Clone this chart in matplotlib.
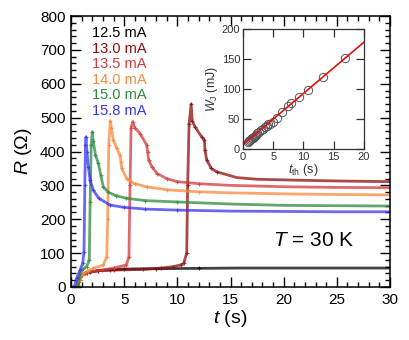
import matplotlib
matplotlib.use("Agg")
from matplotlib import pyplot as plt
from matplotlib.ticker import MultipleLocator

plt.rcParams['font.family'] = ['Liberation Sans', 'DejaVu Sans']
plt.rcParams['mathtext.fontset'] = 'custom'
plt.rcParams['mathtext.rm'] = 'Liberation Sans'
plt.rcParams['mathtext.it'] = 'Liberation Sans:italic'

# R(t) curves, one per current
t_125 = [0.5, 0.7, 0.85, 1.0, 1.3, 1.8, 2.5, 3.7, 5, 8, 12, 16, 20, 25, 30]
R_125 = [0, 15, 30, 36, 40, 44, 48, 51, 53, 54, 55, 56, 56, 56, 56]

t_130 = [0.6, 0.8, 1.0, 1.5, 2.5, 4, 6.8, 8.5, 9.6, 10.3, 10.6, 10.88, 10.97, 11.1,
         11.3, 11.4, 11.66, 12.29, 12.54, 12.6, 12.76, 13.2, 13.7, 15.6, 17.5, 20.3, 25, 30]
R_130 = [0, 20, 35, 42, 48, 50, 52, 56, 60, 65, 70, 100, 300, 480,
         540, 490, 473, 443, 434, 404, 375, 350, 340, 323, 318, 316, 313, 311]

t_135 = [0.6, 0.8, 1.0, 1.5, 2.9, 4.0, 5.2, 5.45, 5.55, 5.65, 5.8, 6.0, 6.5, 7.1,
         7.2, 7.3, 7.6, 8.1, 9.0, 10, 12, 15, 20, 25, 30]
R_135 = [0, 20, 35, 42, 50, 56, 65, 90, 300, 470, 488, 470, 453, 420,
         400, 375, 355, 335, 320, 311, 305, 300, 296, 294, 293]

t_140 = [0.6, 0.8, 1.0, 1.2, 1.6, 2.1, 3.04, 3.36, 3.45, 3.55, 3.7, 3.8, 3.98, 4.3,
         4.6, 4.7, 4.77, 5.24, 6, 7.1, 9, 12, 15, 20, 25, 30]
R_140 = [0, 20, 35, 40, 48, 55, 65, 90, 200, 420, 490, 470, 434, 410,
         389, 370, 350, 320, 305, 296, 287, 281, 278, 275, 273, 272]

t_150 = [0.6, 0.7, 0.85, 1.1, 1.47, 1.72, 1.8, 1.9, 2.0, 2.1, 2.3, 2.57, 2.8, 3.04,
         3.5, 4.2, 5.2, 7, 10, 15, 20, 25, 30]
R_150 = [0, 6, 40, 52, 60, 80, 250, 420, 458, 430, 390, 365, 330, 296,
         280, 270, 262, 255, 251, 245, 241, 240, 239]

t_158 = [0.05, 0.3, 0.53, 0.85, 1.1, 1.22, 1.3, 1.36, 1.41, 1.5, 1.63, 1.8, 2.1, 2.6,
         3.67, 5, 7, 10, 15, 20, 25, 30]
R_158 = [0, 0, 26, 50, 70, 104, 300, 420, 443, 400, 355, 315, 286, 262,
         242, 235, 230, 227, 224, 223, 222, 222]

labels = ["12.5 mA", "13.0 mA", "13.5 mA", "14.0 mA", "15.0 mA", "15.8 mA"]
colors = ["black", "#8e0c0c", "#d43a3a", "#f88a3c", "#2f8a3e", "#3535f0"]
series = [(t_125, R_125), (t_130, R_130), (t_135, R_135),
          (t_140, R_140), (t_150, R_150), (t_158, R_158)]

# inset: Joule energy vs time to threshold
t_th = [0.8, 1.0, 1.2, 1.3, 1.5, 1.6, 1.8, 2.0, 2.1, 2.3, 2.6, 2.9, 3.3, 3.6, 3.9,
        4.2, 4.45, 5.0, 5.7, 6.4, 7.4, 7.95, 9.3, 10.8, 13.3, 16.8]
W_J = [12, 13, 15, 16, 18, 19, 20, 22, 24, 26, 28, 31, 33, 37, 39,
       42, 41, 45, 51, 61, 71, 77, 86, 98, 120, 151]
fit_t = [0, 20]
fit_W = [7, 178]

fig = plt.figure(figsize=(4.09, 3.40), dpi=100)
ax = fig.add_axes([0.1736, 0.1559, 0.780, 0.797])

for (t, R), c in zip(series, colors):
    # markers only where the sampling is sparse (the switching part)
    marked = [i for i, ti in enumerate(t) if ti < 14]
    ax.plot(t, R, color=c, lw=2, alpha=0.75, marker='+', ms=2.5, mew=0.8,
            markevery=marked)

ax.set_xlim(0, 30)
ax.set_ylim(0, 800)
ax.xaxis.set_major_locator(MultipleLocator(5))
ax.xaxis.set_minor_locator(MultipleLocator(1))
ax.yaxis.set_major_locator(MultipleLocator(100))
ax.yaxis.set_minor_locator(MultipleLocator(20))
ax.tick_params(which='both', direction='in', top=True, right=True, width=1, labelsize=11, pad=4)
ax.tick_params(which='major', length=7)
ax.tick_params(which='minor', length=3.5)
for s in ax.spines.values():
    s.set_linewidth(1.1)

ax.set_xlabel('$t$ (s)', fontsize=14, labelpad=1)
ax.set_ylabel('$R$ ($\\Omega$)', fontsize=14, labelpad=4)

for i, (lab, c) in enumerate(zip(labels, colors)):
    ax.text(0.066, 0.937 - i * 0.0572, lab, color=c, fontsize=10.5,
            transform=ax.transAxes, va='center', ha='left')

ax.text(0.633, 0.173, '$T$ = 30 K', fontsize=15, transform=ax.transAxes,
        va='center', ha='left')

ins = fig.add_axes([0.594, 0.562, 0.296, 0.353])
ins.plot(t_th, W_J, 'o', mfc='none', mec='#555555', ms=6, mew=0.7)
ins.plot(fit_t, fit_W, color='#dd1111', lw=1.2)
ins.set_xlim(0, 20)
ins.set_ylim(0, 200)
ins.xaxis.set_major_locator(MultipleLocator(5))
ins.yaxis.set_major_locator(MultipleLocator(50))
ins.tick_params(direction='in', top=True, right=True, length=5.5, width=0.9,
                labelsize=8, colors='#333333', pad=2)
for s in ins.spines.values():
    s.set_linewidth(0.9)
    s.set_color('#333333')
ins.set_xlabel('$t_\\mathrm{th}$ (s)', fontsize=9, color='#333333', labelpad=0)
ins.set_ylabel('$W_\\mathrm{J}$ (mJ)', fontsize=9, color='#333333', labelpad=1)

fig.savefig("out.png", dpi=100)
